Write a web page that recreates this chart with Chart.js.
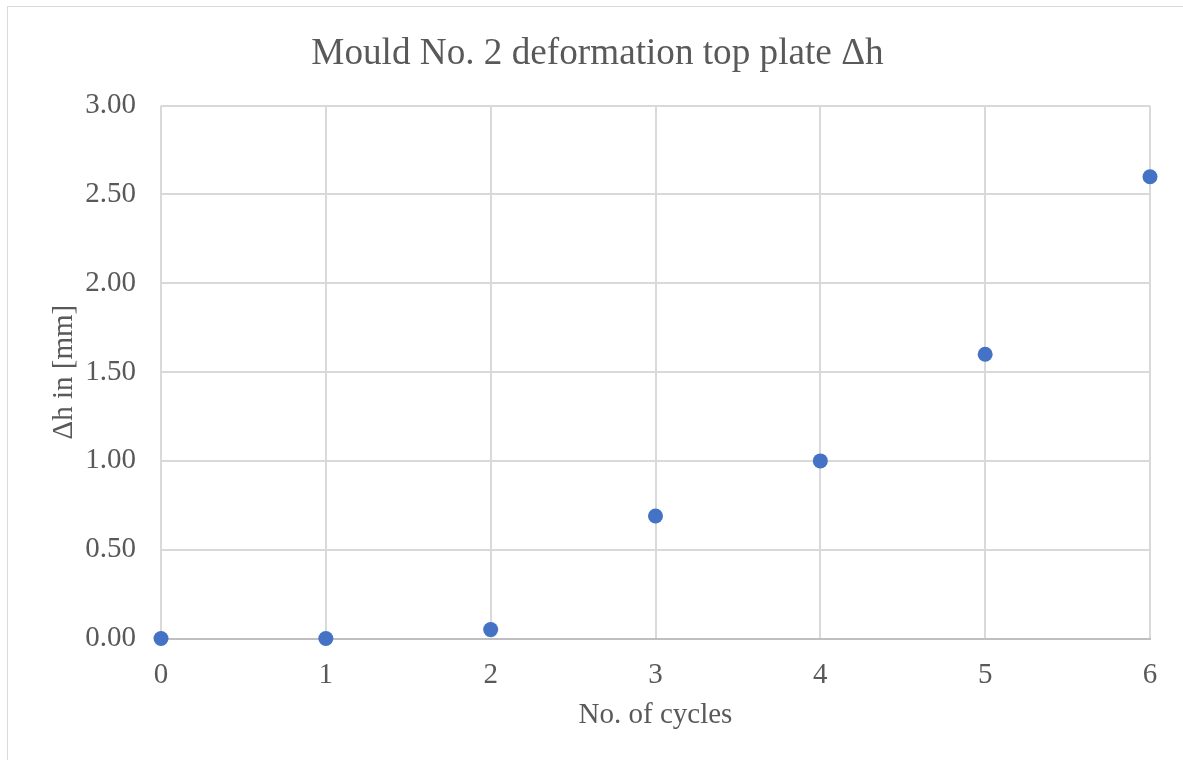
<!DOCTYPE html>
<html>
<head>
<meta charset="utf-8">
<script src="https://cdn.jsdelivr.net/npm/chart.js@4/dist/chart.umd.min.js"></script>
<style>
  html, body { margin: 0; padding: 0; background: #ffffff; }
  #wrap { position: relative; width: 1183px; height: 760px; overflow: hidden; }
  #frame { position: absolute; left: 7px; top: 6px; width: 1200px; height: 800px; border: 1.5px solid #d9d9d9; box-sizing: border-box; pointer-events: none; }
  canvas { position: absolute; left: 0; top: 0; }
</style>
</head>
<body>
<div id="wrap">
  <canvas id="c" width="1183" height="760"></canvas>
  <div id="frame"></div>
</div>
<script>
const titleText = 'Mould No. 2 deformation top plate Δh';
const xAxisTitle = 'No. of cycles';
const yAxisTitle = 'Δh in [mm]';
const cycles = [0, 1, 2, 3, 4, 5, 6];
const deltaH = [0.00, 0.00, 0.05, 0.69, 1.00, 1.60, 2.60];
const xTicks = [0, 1, 2, 3, 4, 5, 6];
const yTicks = [0, 0.5, 1.0, 1.5, 2.0, 2.5, 3.0];

const FONT = "'Liberation Serif', 'Times New Roman', serif";
const TXT = '#595959';

const points = cycles.map((x, i) => ({ x: x, y: deltaH[i] }));

new Chart(document.getElementById('c'), {
  type: 'scatter',
  data: {
    datasets: [{
      data: points,
      backgroundColor: '#4472C4',
      borderColor: '#4472C4',
      borderWidth: 0,
      pointRadius: 7.5,
      pointHoverRadius: 7.5,
      clip: false
    }]
  },
  options: {
    responsive: false,
    animation: false,
    layout: { padding: { left: 12, right: 0, top: 6, bottom: 0 } },
    plugins: {
      legend: { display: false },
      tooltip: { enabled: false },
      title: {
        display: true,
        text: titleText,
        color: TXT,
        font: { family: FONT, size: 37.2, weight: 'normal' },
        padding: { top: 26, bottom: 29 }
      }
    },
    scales: {
      x: {
        type: 'linear',
        min: 0, max: 6,
        afterBuildTicks: s => { s.ticks = xTicks.map(v => ({ value: v })); },
        afterFit: s => { s.height = 121.5; },
        grid: { color: '#d9d9d9', lineWidth: 2, drawTicks: false },
        border: { color: '#bfbfbf', width: 2 },
        ticks: {
          color: TXT,
          padding: 19,
          font: { family: FONT, size: 29 },
          callback: v => String(v)
        },
        title: {
          display: true, text: xAxisTitle, color: TXT,
          font: { family: FONT, size: 29 },
          padding: { top: 0, bottom: 27 }
        }
      },
      y: {
        type: 'linear',
        position: 'left',
        min: 0, max: 3,
        afterBuildTicks: s => { s.ticks = yTicks.map(v => ({ value: v })); },
        afterFit: s => { s.width = 149; },
        grid: { color: '#d9d9d9', lineWidth: 2, drawTicks: false },
        border: { display: false },
        ticks: {
          color: TXT,
          padding: 25,
          font: { family: FONT, size: 29 },
          callback: v => Number(v).toFixed(2)
        },
        title: {
          display: true, text: yAxisTitle, color: TXT,
          font: { family: FONT, size: 29 },
          padding: { top: 35, bottom: 0 }
        }
      },
      yRight: {
        type: 'linear',
        position: 'right',
        min: 0, max: 1,
        display: true,
        afterFit: s => { s.width = 33; },
        grid: { display: false, drawTicks: false },
        border: { display: false },
        ticks: { display: false }
      }
    }
  }
});
</script>
</body>
</html>
